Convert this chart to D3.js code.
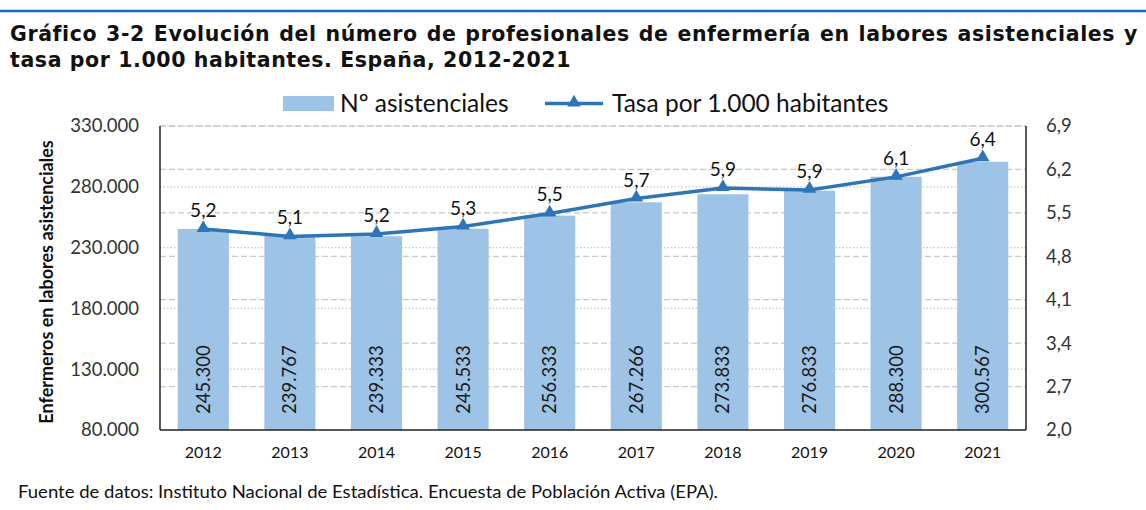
<!DOCTYPE html>
<html>
<head>
<meta charset="utf-8">
<script src="https://cdn.jsdelivr.net/npm/d3@7"></script>
<style>
  body { margin: 0; background: #fff; }
  svg { display: block; }
</style>
</head>
<body>
<div id="chart"></div>
<script>
const years = ['2012', '2013', '2014', '2015', '2016', '2017', '2018', '2019', '2020', '2021'];
const nurses = [245300, 239767, 239333, 245533, 256333, 267266, 273833, 276833, 288300, 300567];
const rate = [5.24, 5.12, 5.16, 5.28, 5.49, 5.73, 5.9, 5.87, 6.08, 6.38];
const leftTicks = [80000, 130000, 180000, 230000, 280000, 330000];
const rightTicks = [2.0, 2.7, 3.4, 4.1, 4.8, 5.5, 6.2, 6.9];

const titleLine1 = 'Gráfico 3-2 Evolución del número de profesionales de enfermería en labores asistenciales y';
const titleLine2 = 'tasa por 1.000 habitantes. España, 2012-2021';
const sourceText = 'Fuente de datos: Instituto Nacional de Estadística. Encuesta de Población Activa (EPA).';

const width = 1146;
const height = 510;
const margin = { top: 126, right: 120, bottom: 80, left: 160 };
const barColor = '#9dc3e6';
const lineColor = '#2e75b6';
const font = 'Lato, "Open Sans", sans-serif';

const svg = d3.select('#chart').append('svg')
  .attr('width', width)
  .attr('height', height);

// top rule
svg.append('line')
  .attr('x1', 0).attr('x2', width)
  .attr('y1', 11).attr('y2', 11)
  .attr('stroke', '#1f6aae')
  .attr('stroke-width', 2.5);

// title, first line justified by spreading the words
const titleFont = '"DejaVu Sans", Verdana, sans-serif';
const titleSize = 20.5;
const titleSpacing = 0.6;
const words = titleLine1.split(' ');
const wordNodes = svg.append('g')
  .attr('font-family', titleFont)
  .attr('font-weight', 'bold')
  .attr('font-size', titleSize)
  .attr('letter-spacing', titleSpacing)
  .attr('fill', '#111')
  .selectAll('text')
  .data(words)
  .join('text')
  .attr('y', 41)
  .text(d => d);

const wordWidths = wordNodes.nodes().map(n => n.getComputedTextLength());
const totalWords = d3.sum(wordWidths);
const gap = (1138 - 10 - totalWords) / (words.length - 1);
let cursor = 10;
wordNodes.attr('x', (d, i) => {
  const x = cursor;
  cursor += wordWidths[i] + gap;
  return x;
});

svg.append('text')
  .attr('x', 10)
  .attr('y', 67)
  .attr('font-family', titleFont)
  .attr('font-weight', 'bold')
  .attr('font-size', titleSize)
  .attr('letter-spacing', titleSpacing)
  .attr('fill', '#111')
  .text(titleLine2);

const x = d3.scaleBand()
  .domain(years)
  .range([margin.left, width - margin.right])
  .paddingInner(0.41)
  .paddingOuter(0.205);

const yLeft = d3.scaleLinear()
  .domain([80000, 330000])
  .range([height - margin.bottom, margin.top]);

const yRight = d3.scaleLinear()
  .domain([2.0, 6.9])
  .range([height - margin.bottom, margin.top]);

const x0 = margin.left;
const x1 = width - margin.right;
const yBottom = height - margin.bottom;

// gridlines: dotted for the left scale, dashed for the right scale
svg.append('g')
  .selectAll('line')
  .data(leftTicks.slice(1))
  .join('line')
  .attr('x1', x0).attr('x2', x1)
  .attr('y1', d => yLeft(d)).attr('y2', d => yLeft(d))
  .attr('stroke', '#c8c8c8')
  .attr('stroke-width', 1.2)
  .attr('stroke-dasharray', '1.5,2');

svg.append('g')
  .selectAll('line')
  .data(rightTicks.slice(1))
  .join('line')
  .attr('x1', x0).attr('x2', x1)
  .attr('y1', d => yRight(d)).attr('y2', d => yRight(d))
  .attr('stroke', '#c8c8c8')
  .attr('stroke-width', 1.3)
  .attr('stroke-dasharray', '6,3');

// bars
svg.append('g')
  .selectAll('rect')
  .data(nurses)
  .join('rect')
  .attr('x', (d, i) => x(years[i]))
  .attr('y', d => yLeft(d))
  .attr('width', x.bandwidth())
  .attr('height', d => yBottom - yLeft(d))
  .attr('fill', barColor);

// bar value labels, rotated inside the base
const fmtThousands = d3.formatLocale({ decimal: ',', thousands: '.', grouping: [3], currency: ['', '€'] }).format(',d');
svg.append('g')
  .selectAll('text')
  .data(nurses)
  .join('text')
  .attr('transform', (d, i) => `translate(${x(years[i]) + x.bandwidth() / 2 + 6.5},${yBottom - 16}) rotate(-90)`)
  .attr('font-family', font)
  .attr('font-size', 18.5)
  .attr('fill', '#1a1a1a')
  .text(d => fmtThousands(d));

// axes frame
const frame = svg.append('g').attr('stroke', '#222').attr('stroke-width', 1.5);
frame.append('line').attr('x1', x0).attr('x2', x0).attr('y1', margin.top).attr('y2', yBottom);
frame.append('line').attr('x1', x1).attr('x2', x1).attr('y1', margin.top).attr('y2', yBottom);
frame.append('line').attr('x1', x0).attr('x2', x1).attr('y1', yBottom).attr('y2', yBottom);

// left axis labels
const leftAxis = d3.axisLeft(yLeft)
  .tickValues(leftTicks)
  .tickSize(0)
  .tickPadding(21)
  .tickFormat(d => fmtThousands(d));

svg.append('g')
  .attr('transform', `translate(${x0},0)`)
  .call(leftAxis)
  .call(g => g.select('.domain').remove())
  .call(g => g.selectAll('text')
    .attr('font-family', font)
    .attr('font-size', 18.5)
    .attr('fill', '#333'));

// right axis labels
const rightAxis = d3.axisRight(yRight)
  .tickValues(rightTicks)
  .tickSize(0)
  .tickPadding(20)
  .tickFormat(d => d.toFixed(1).replace('.', ','));

svg.append('g')
  .attr('transform', `translate(${x1},0)`)
  .call(rightAxis)
  .call(g => g.select('.domain').remove())
  .call(g => g.selectAll('text')
    .attr('font-family', font)
    .attr('font-size', 18.5)
    .attr('fill', '#333'));

// bottom axis labels
const bottomAxis = d3.axisBottom(x).tickSize(0).tickPadding(17);
svg.append('g')
  .attr('transform', `translate(0,${yBottom})`)
  .call(bottomAxis)
  .call(g => g.select('.domain').remove())
  .call(g => g.selectAll('text')
    .attr('font-family', font)
    .attr('font-size', 16)
    .attr('fill', '#111'));

// rate line
const line = d3.line()
  .x((d, i) => x(years[i]) + x.bandwidth() / 2)
  .y(d => yRight(d));

svg.append('path')
  .datum(rate)
  .attr('d', line)
  .attr('fill', 'none')
  .attr('stroke', lineColor)
  .attr('stroke-width', 3.5)
  .attr('stroke-linejoin', 'round');

const triangle = d3.symbol().type(d3.symbolTriangle).size(80);

svg.append('g')
  .selectAll('path')
  .data(rate)
  .join('path')
  .attr('transform', (d, i) => `translate(${x(years[i]) + x.bandwidth() / 2},${yRight(d) - 1})`)
  .attr('d', triangle)
  .attr('fill', lineColor);

svg.append('g')
  .selectAll('text')
  .data(rate)
  .join('text')
  .attr('x', (d, i) => x(years[i]) + x.bandwidth() / 2)
  .attr('y', d => yRight(d) - 12)
  .attr('text-anchor', 'middle')
  .attr('font-family', font)
  .attr('font-size', 19)
  .attr('fill', '#111')
  .text(d => d.toFixed(1).replace('.', ','));

// y axis title
svg.append('text')
  .attr('transform', `translate(53,${(margin.top + yBottom) / 2 + 4}) rotate(-90)`)
  .attr('text-anchor', 'middle')
  .attr('font-family', font)
  .attr('font-weight', 'bold')
  .attr('font-size', 18)
  .attr('fill', '#111')
  .text('Enfermeros en labores asistenciales');

// legend
const legend = svg.append('g').attr('font-family', font).attr('font-size', 24.5).attr('fill', '#111');
legend.append('rect')
  .attr('x', 283).attr('y', 96)
  .attr('width', 51).attr('height', 15)
  .attr('fill', barColor);
legend.append('text').attr('x', 340).attr('y', 112).text('Nº asistenciales');
legend.append('line')
  .attr('x1', 545).attr('x2', 603)
  .attr('y1', 103.5).attr('y2', 103.5)
  .attr('stroke', lineColor)
  .attr('stroke-width', 3.5);
legend.append('path')
  .attr('transform', 'translate(574,102.5)')
  .attr('d', triangle)
  .attr('fill', lineColor);
legend.append('text').attr('x', 612).attr('y', 112).text('Tasa por 1.000 habitantes');

// source
svg.append('text')
  .attr('x', 18)
  .attr('y', 498)
  .attr('font-family', font)
  .attr('font-size', 16.5)
  .attr('fill', '#111')
  .attr('textLength', 700)
  .attr('lengthAdjust', 'spacingAndGlyphs')
  .text(sourceText);
</script>
</body>
</html>
